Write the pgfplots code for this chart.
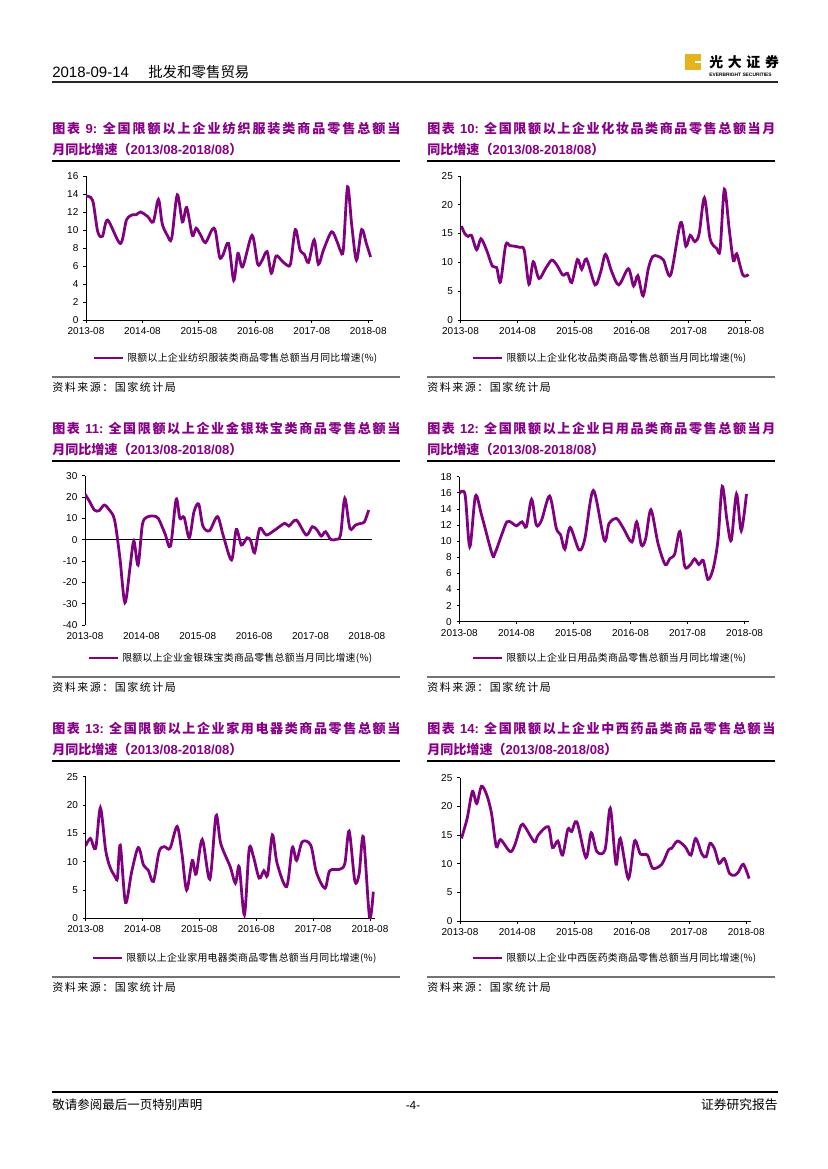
\documentclass[border=0pt]{standalone}
\usepackage{pgfplots}
\pgfplotsset{compat=1.18}
\usepackage{fontspec}
\setmainfont{Liberation Sans}
\newfontfamily\cjk{Noto Sans CJK SC}
\newfontfamily\cjkt[LetterSpace=8]{Noto Sans CJK SC}
\newfontfamily\cjks[LetterSpace=14]{Noto Sans CJK SC}
\newfontfamily\cjkl[LetterSpace=3]{Noto Sans CJK SC}
\XeTeXlinebreaklocale "zh"
\XeTeXlinebreakskip=0pt plus 2pt
\definecolor{purp}{RGB}{128,0,128}
\definecolor{tpurp}{RGB}{135,0,135}
\definecolor{logoY}{RGB}{228,180,30}
\newcommand\tickf{\fontsize{7.2bp}{8bp}\selectfont}
\newcommand\legf{\cjkl\fontsize{7.1bp}{8bp}\selectfont}
\newcommand\titf{\cjkt\bfseries\fontsize{9.4bp}{15.1bp}\selectfont}
\newcommand\lat[1]{{\rmfamily\bfseries #1}}
\pgfplotsset{
 pline/.style={purp, line width=2bp, smooth, tension=0.5, mark=none},
 pstyle/.style={
  scale only axis, anchor=south west,
  axis lines=left, axis line style={-, line width=0.6bp, black},
  tick align=outside, major tick length=2bp, tick style={line width=0.6bp, black},
  xmin=0, xmax=61, xtick={0,12,24,36,48,60},
  xticklabels={2013-08,2014-08,2015-08,2016-08,2017-08,2018-08},
  tick label style={font=\tickf},
  legend style={draw=none, fill=none, inner sep=0pt, anchor=west, font=\legf, legend cell align=left},
  legend image code/.code={\draw[line width=2bp, purp] (0bp,0bp) -- (21bp,0bp);},
}}
\begin{document}
\begin{tikzpicture}[x=0.72bp,y=-0.72bp]
\useasboundingbox (0,0) rectangle (827,1169);
\fill[white] (0,0) rectangle (827,1169);
% header
\node[anchor=base west, inner sep=0, font=\fontsize{10.8bp}{12bp}\selectfont] at (52,78) {2018-09-14};
\node[anchor=base west, inner sep=0, font=\cjk\fontsize{10.4bp}{12bp}\selectfont] at (148,78) {批发和零售贸易};
\draw[line width=1.1bp, black!85] (52,82) -- (778,82);
\fill[logoY] (685,54) rectangle (701,70);
\fill[white] (695,61) rectangle (701,63);
\node[anchor=west, inner sep=0, font=\cjk\bfseries\fontsize{10bp}{10bp}\selectfont] at (709,62) {光\hspace{3.4bp}大\hspace{3.4bp}证\hspace{3.4bp}券};
\node[anchor=west, inner sep=0, font=\bfseries\fontsize{3.5bp}{4bp}\selectfont] at (709,74.5) {EVERBRIGHT SECURITIES};
% footer
\draw[line width=0.8bp, black] (52,1092) -- (778,1092);
\node[anchor=west, inner sep=0, font=\cjk\fontsize{9bp}{10bp}\selectfont] at (52,1105) {敬请参阅最后一页特别声明};
\node[inner sep=0, font=\fontsize{8.5bp}{10bp}\selectfont] at (413,1105) {-4-};
\node[anchor=east, inner sep=0, font=\cjk\fontsize{9.2bp}{10bp}\selectfont] at (778,1105) {证券研究报告};

% ---------- titles, rules, sources ----------
\node[anchor=north west, inner sep=0, text width=250.6bp, align=justify, text=tpurp, font=\titf] at (52,122)
 {图表\ \lat{9:}\ 全国限额以上企业纺织服装类商品零售总额当\linebreak 月同比增速（\lat{2013/08-2018/08}）};
\node[anchor=north west, inner sep=0, text width=250.6bp, align=justify, text=tpurp, font=\titf] at (427,122)
 {图表\ \lat{10:}\ 全国限额以上企业化妆品类商品零售总额当月\linebreak 同比增速（\lat{2013/08-2018/08}）};
\node[anchor=north west, inner sep=0, text width=250.6bp, align=justify, text=tpurp, font=\titf] at (52,422)
 {图表\ \lat{11:}\ 全国限额以上企业金银珠宝类商品零售总额当\linebreak 月同比增速（\lat{2013/08-2018/08}）};
\node[anchor=north west, inner sep=0, text width=250.6bp, align=justify, text=tpurp, font=\titf] at (427,422)
 {图表\ \lat{12:}\ 全国限额以上企业日用品类商品零售总额当月\linebreak 同比增速（\lat{2013/08-2018/08}）};
\node[anchor=north west, inner sep=0, text width=250.6bp, align=justify, text=tpurp, font=\titf] at (52,722)
 {图表\ \lat{13:}\ 全国限额以上企业家用电器类商品零售总额当\linebreak 月同比增速（\lat{2013/08-2018/08}）};
\node[anchor=north west, inner sep=0, text width=250.6bp, align=justify, text=tpurp, font=\titf] at (427,722)
 {图表\ \lat{14:}\ 全国限额以上企业中西药品类商品零售总额当\linebreak 月同比增速（\lat{2013/08-2018/08}）};
\foreach \dy in {0,300,600}{
  \draw[line width=0.8bp, black] (52,161+\dy) -- (400,161+\dy);
  \draw[line width=0.8bp, black] (427,161+\dy) -- (775,161+\dy);
  \draw[line width=1.4bp, black!55] (52,377+\dy) -- (400,377+\dy);
  \draw[line width=1.4bp, black!55] (427,377+\dy) -- (775,377+\dy);
  \node[anchor=west, inner sep=0, font=\cjks\fontsize{7.9bp}{9bp}\selectfont] at (52,387+\dy) {资料来源：国家统计局};
  \node[anchor=west, inner sep=0, font=\cjks\fontsize{7.9bp}{9bp}\selectfont] at (427,387+\dy) {资料来源：国家统计局};
}

% ---------- chart 9 ----------
\begin{axis}[pstyle, at={(61.92bp,-230.4bp)}, width=206.6bp, height=103.7bp,
  ymin=0, ymax=16, ytick={0,2,...,16}, yticklabels={0,2,4,6,8,10,12,14,16},
  legend style={at={(axis description cs:0.022,-0.264)}}]
\addplot[pline] coordinates {(0,13.75)(1.4,13.3)(2.5,9.8)(3.5,9.3)(4.6,11.1)(7.3,8.5)(8.6,11.1)(9.9,11.7)(10.7,11.7)(11.6,12.0)(13.1,11.5)(14.3,10.9)(15.4,13.4)(16.2,10.7)(17.3,9.4)(18.2,9.05)(19.4,13.9)(20.5,10.9)(21.4,12.5)(22.6,9.4)(23.4,10.2)(24.3,9.5)(25.4,8.6)(26.8,10.05)(27.5,9.9)(28.4,7.0)(29.1,7.2)(30.3,8.5)(31.4,4.4)(32.3,7.4)(33.3,5.9)(35.3,9.4)(36.5,6.2)(37.4,6.6)(38.5,7.6)(39.4,5.2)(40.4,7.1)(41.6,6.6)(42.7,6.1)(43.5,6.3)(44.5,10.05)(45.5,7.8)(46.4,7.3)(47.3,6.4)(48.5,8.9)(49.4,6.2)(50.5,7.8)(52.2,9.8)(53.3,8.8)(54.1,7.7)(54.7,7.8)(55.6,14.8)(56.5,10.5)(57.5,6.65)(58.6,10.05)(59.6,8.5)(60.5,7.0)};
\addlegendentry{限额以上企业纺织服装类商品零售总额当月同比增速(\%)}
\end{axis}

% ---------- chart 10 ----------
\begin{axis}[pstyle, at={(331.56bp,-230.4bp)}, width=208.8bp, height=103.7bp,
  ymin=0, ymax=25, ytick={0,5,...,25}, yticklabels={0,5,10,15,20,25},
  legend style={at={(axis description cs:0.038,-0.264)}}]
\addplot[pline] coordinates {(0.2,16.3)(0.9,15.0)(1.6,14.5)(2.3,14.7)(3.4,12.2)(4.3,14.1)(5.5,12.1)(6.7,9.35)(7.6,9.1)(8.4,6.6)(9.5,13.0)(10.4,12.9)(11.4,12.8)(12.5,12.6)(13.4,12.1)(14.4,6.2)(15.3,10.1)(16.5,7.2)(17.9,8.95)(19.2,10.4)(20.3,9.5)(21.5,7.8)(22.5,8.1)(23.4,6.5)(24.6,10.5)(25.5,8.8)(26.5,10.6)(28.3,6.1)(29.5,8.4)(30.5,11.4)(31.8,8.4)(33.3,6.1)(35.3,8.9)(36.4,5.9)(37.3,7.7)(38.4,4.2)(39.5,8.9)(40.4,11.0)(41.4,11.1)(42.7,10.4)(44.2,7.8)(46.3,16.9)(47.4,12.8)(48.3,14.7)(49.3,13.6)(50.2,15.0)(51.3,21.2)(52.5,14.1)(53.9,12.4)(54.6,12.2)(55.5,22.7)(56.5,15.9)(57.4,10.3)(58.1,11.5)(59.4,7.8)(60.6,7.9)};
\addlegendentry{限额以上企业化妆品类商品零售总额当月同比增速(\%)}
\end{axis}

% ---------- chart 11 ----------
\begin{axis}[pstyle, at={(61.2bp,-450bp)}, width=206.3bp, height=107.5bp,
  ymin=-40, ymax=30, ytick={-40,-30,...,30}, yticklabels={-40,-30,-20,-10,0,10,20,30},
  x axis line style={draw=none}, xtick style={draw=none},
  extra y ticks={0}, extra y tick labels={},
  extra y tick style={grid=major, major grid style={black, line width=0.6bp}},
  legend style={at={(axis description cs:0.008,-0.221)}}]
\addplot[pline] coordinates {(0,21.4)(1.0,17.8)(2.0,13.9)(3.0,13.6)(4.1,16.25)(5.2,13.9)(6.3,9.2)(7.4,-8.0)(8.5,-29.5)(9.6,-12.7)(10.4,-0.6)(11.3,-11.9)(12.2,6.9)(13.1,10.5)(14.5,11.1)(15.6,10.0)(17.0,3.0)(18.2,-3.0)(19.4,18.9)(20.2,10.0)(21.1,10.5)(22.2,0.9)(23.2,13.1)(24.2,16.7)(25.1,6.4)(26.5,4.2)(28.2,10.8)(29.4,2.2)(31.2,-9.5)(32.2,4.8)(33.3,-2.5)(34.5,0.9)(35.3,-0.6)(36.1,-6.1)(37.2,5.3)(38.6,2.2)(40.4,4.5)(42.5,7.7)(43.4,6.4)(45.0,9.2)(47.1,2.2)(48.4,6.1)(49.4,4.5)(50.3,1.7)(51.2,3.75)(52.3,0.15)(53.4,0.15)(54.4,2.2)(55.3,19.4)(56.4,5.3)(57.6,6.9)(58.8,7.7)(59.5,8.4)(60.4,13.9)};
\addlegendentry{限额以上企业金银珠宝类商品零售总额当月同比增速(\%)}
\end{axis}

% ---------- chart 12 ----------
\begin{axis}[pstyle, at={(330.7bp,-447.62bp)}, width=208.8bp, height=104.4bp,
  ymin=0, ymax=18, ytick={0,2,...,18}, yticklabels={0,2,4,6,8,10,12,14,16,18},
  legend style={at={(axis description cs:0.042,-0.250)}}]
\addplot[pline] coordinates {(0,15.9)(1.2,15.8)(2.2,9.3)(3.4,15.6)(4.7,13.2)(6.9,8.4)(7.5,8.5)(8.8,10.6)(10.0,12.4)(11.0,12.3)(12.0,11.9)(13.2,12.4)(14.1,11.8)(15.2,15.2)(16.2,12.0)(17.3,12.6)(19.0,15.6)(20.4,11.6)(21.3,10.8)(22.2,9.0)(23.3,11.7)(25.2,8.9)(26.4,10.3)(28.2,16.3)(30.5,10.1)(31.5,12.2)(33.1,12.8)(34.5,11.6)(36.3,9.9)(37.3,12.4)(38.3,9.5)(39.2,10.3)(40.3,13.9)(41.8,9.7)(43.3,7.1)(44.3,7.85)(45.3,8.4)(46.4,11.2)(47.4,6.9)(48.5,7.0)(49.5,7.8)(50.4,7.1)(51.3,7.6)(52.3,5.25)(53.4,6.6)(54.4,10.1)(55.3,16.8)(56.3,12.6)(57.2,10.1)(58.3,15.85)(59.3,11.3)(60.4,15.85)};
\addlegendentry{限额以上企业日用品类商品零售总额当月同比增速(\%)}
\end{axis}

% ---------- chart 13 ----------
\begin{axis}[pstyle, at={(61.7bp,-661.18bp)}, width=208.1bp, height=102bp,
  ymin=0, ymax=25, ytick={0,5,...,25}, yticklabels={0,5,10,15,20,25},
  legend style={at={(axis description cs:0.020,-0.280)}}]
\addplot[pline] coordinates {(0,12.8)(1.0,14.1)(2.1,12.35)(3.1,19.5)(4.2,12.1)(5.1,9.1)(6.2,7.35)(6.7,7.1)(7.3,12.9)(8.4,2.8)(9.7,8.2)(11.1,12.5)(12.2,9.4)(13.2,8.5)(14.3,6.5)(15.5,11.8)(16.6,12.65)(17.8,12.35)(19.3,16.2)(20.3,11.5)(21.3,5.0)(22.5,10.2)(23.3,7.8)(24.6,13.9)(26.2,6.9)(27.5,18.1)(28.5,13.2)(30.5,9.1)(31.6,6.2)(32.4,9.1)(33.5,0.6)(34.5,12.2)(35.4,10.9)(36.6,7.1)(37.6,8.4)(38.4,7.65)(39.4,14.7)(40.4,9.7)(42.4,5.6)(43.6,12.5)(44.5,10.2)(45.7,13.5)(47.5,12.9)(48.7,8.1)(50.5,5.3)(51.5,8.4)(53.6,8.65)(54.7,9.7)(55.6,15.4)(56.8,6.6)(57.7,7.8)(58.6,14.4)(59.9,0.2)(60.7,4.7)};
\addlegendentry{限额以上企业家用电器类商品零售总额当月同比增速(\%)}
\end{axis}

% ---------- chart 14 ----------
\begin{axis}[pstyle, at={(331.2bp,-663.12bp)}, width=209.5bp, height=103.2bp,
  ymin=0, ymax=25, ytick={0,5,...,25}, yticklabels={0,5,10,15,20,25},
  legend style={at={(axis description cs:0.039,-0.258)}}]
\addplot[pline] coordinates {(0.3,14.4)(1.5,17.9)(2.6,22.6)(3.5,20.5)(4.5,23.5)(5.6,22.0)(6.6,18.8)(7.6,13.0)(8.5,14.2)(10.5,12.1)(11.5,13.3)(12.8,16.7)(13.6,16.45)(15.6,13.8)(16.4,15.0)(18.5,16.45)(19.4,12.8)(20.5,13.95)(21.5,11.5)(22.6,16.0)(23.4,15.6)(24.5,17.3)(26.4,11.05)(27.5,15.4)(28.7,12.1)(30.4,12.4)(31.5,19.65)(32.7,9.9)(33.6,14.4)(35.3,7.4)(36.6,13.95)(37.8,11.7)(39.3,11.5)(40.4,9.2)(42.3,9.9)(43.7,12.4)(44.4,12.7)(45.6,13.95)(47.2,12.95)(48.4,11.5)(49.4,14.4)(50.7,11.7)(51.6,11.2)(52.4,13.55)(53.4,12.5)(54.3,10.05)(55.4,10.9)(56.5,8.3)(57.6,8.0)(58.4,8.6)(59.4,9.9)(60.6,7.4)};
\addlegendentry{限额以上企业中西医药类商品零售总额当月同比增速(\%)}
\end{axis}
\end{tikzpicture}
\end{document}
